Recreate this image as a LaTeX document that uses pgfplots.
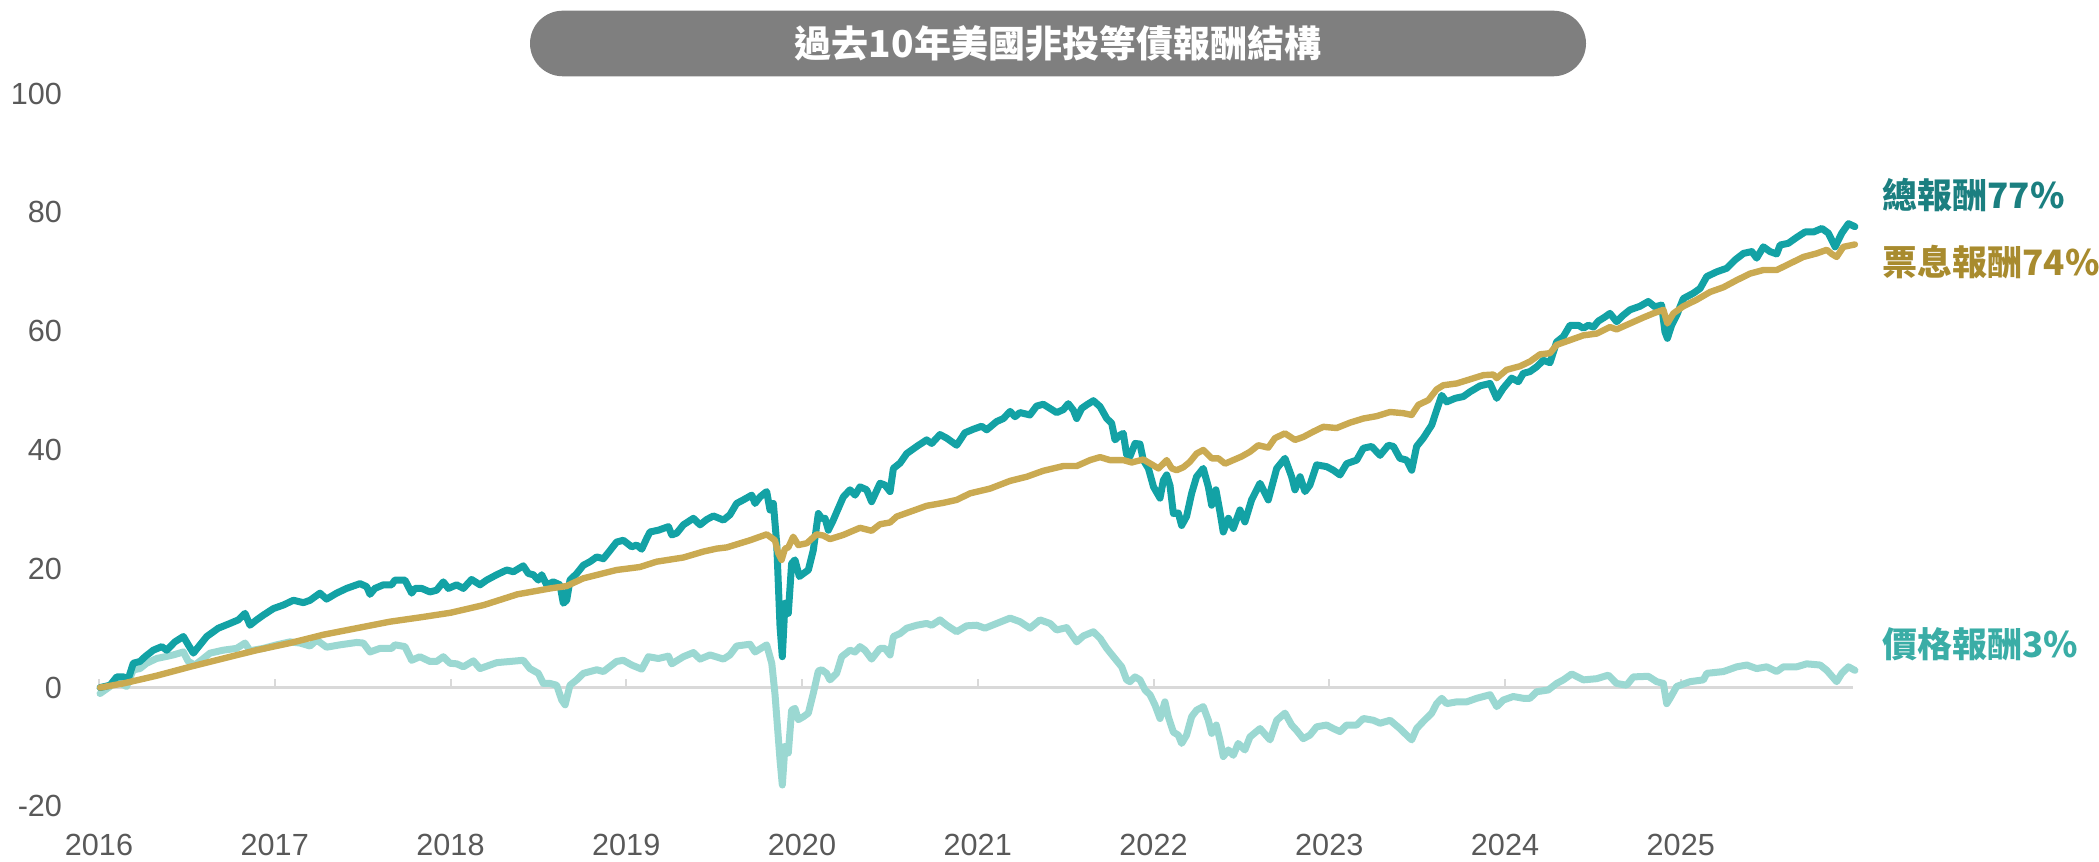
\documentclass[border=0pt]{standalone}
\usepackage{fontspec}
\setmainfont{Liberation Sans}
\newfontfamily\cjk{Noto Sans CJK TC}
\usepackage{pgfplots}
\pgfplotsset{compat=1.18}
\definecolor{totc}{HTML}{13A2A5}
\definecolor{cpnc}{HTML}{CAAA52}
\definecolor{prc}{HTML}{9BD8D2}
\definecolor{totlab}{HTML}{1B7F80}
\definecolor{cpnlab}{HTML}{A88B2E}
\definecolor{prlab}{HTML}{3AADA6}
\definecolor{tickgray}{HTML}{595959}
\definecolor{zerogray}{HTML}{D9D9D9}
\definecolor{titlegray}{HTML}{7F7F7F}
\begin{document}
\begin{tikzpicture}
\useasboundingbox (0pt,0pt) rectangle (1049.5pt,431pt);
\fill[titlegray, rounded corners=16.4pt] (265pt,392.85pt) rectangle (793pt,425.65pt);
\node[text=white, inner sep=0pt, font=\cjk\bfseries\fontsize{18.5}{18.5}\selectfont] at (529pt,409.25pt) {過去10年美國非投等債報酬結構};
\begin{axis}[
  at={(49.5pt,27.8pt)}, anchor=south west,
  scale only axis, width=878.75pt, height=356.4pt,
  xmin=2016, xmax=2026, ymin=-20, ymax=100,
  clip=false,
  axis line style={draw=none},
  major tick length=0pt,
  xtick={2016,2017,2018,2019,2020,2021,2022,2023,2024,2025},
  xticklabels={2016,2017,2018,2019,2020,2021,2022,2023,2024,2025},
  ytick={-20,0,20,40,60,80,100},
  yticklabels={-20,0,20,40,60,80,100},
  xticklabel style={anchor=base, inner sep=0pt, yshift=-24.3pt, text=tickgray, font=\fontsize{15.3}{15.3}\selectfont},
  yticklabel style={anchor=east, inner sep=0pt, xshift=-18.3pt, text=tickgray, font=\fontsize{15.3}{15.3}\selectfont},
]
\draw[zerogray, line width=1.3pt] (axis cs:2016,0) -- (axis cs:2025.98,0);
\pgfplotsinvokeforeach{2016,2017,2018,2019,2020,2021,2022,2023,2024,2025}{
  \draw[zerogray, line width=1pt] (axis cs:#1,0) -- ++(0pt,4.5pt);
}
% price return
\addplot[color=prc, line width=3.5pt, line join=round, line cap=round, mark=none] coordinates {
(2016.006,-1.0) (2016.063,0.2) (2016.101,1.0) (2016.157,0.2) (2016.195,3.0) (2016.233,3.2) (2016.271,4.1) (2016.328,4.9) (2016.376,5.2) (2016.423,5.5) (2016.480,6.0) (2016.508,4.4) (2016.546,3.8) (2016.594,4.9) (2016.632,5.8) (2016.707,6.3) (2016.783,6.6) (2016.831,7.5) (2016.859,6.2) (2016.935,6.6) (2017.011,7.2) (2017.087,7.7) (2017.144,7.5) (2017.201,7.0) (2017.239,8.0) (2017.295,6.8) (2017.371,7.2) (2017.466,7.6) (2017.504,7.5) (2017.542,6.0) (2017.599,6.6) (2017.665,6.6) (2017.684,7.2) (2017.741,6.9) (2017.779,4.6) (2017.826,5.2) (2017.883,4.4) (2017.921,4.4) (2017.959,5.2) (2017.997,4.1) (2018.035,4.0) (2018.073,3.5) (2018.130,4.5) (2018.168,3.2) (2018.263,4.2) (2018.339,4.4) (2018.414,4.6) (2018.452,3.2) (2018.500,2.4) (2018.528,0.7) (2018.566,0.7) (2018.604,0.4) (2018.633,-2.1) (2018.652,-2.9) (2018.680,0.4) (2018.718,1.3) (2018.756,2.4) (2018.832,3.0) (2018.870,2.7) (2018.945,4.4) (2018.983,4.6) (2019.031,3.8) (2019.088,3.1) (2019.126,5.2) (2019.183,4.9) (2019.240,5.3) (2019.259,4.0) (2019.325,5.2) (2019.382,5.9) (2019.420,4.8) (2019.477,5.5) (2019.553,4.8) (2019.590,5.5) (2019.628,7.0) (2019.704,7.3) (2019.733,6.0) (2019.799,7.2) (2019.828,4.1) (2019.846,-1.0) (2019.875,-12.2) (2019.888,-16.4) (2019.903,-9.9) (2019.922,-11.0) (2019.941,-3.8) (2019.960,-3.5) (2019.979,-5.4) (2020.008,-4.9) (2020.036,-4.3) (2020.064,-1.0) (2020.093,2.8) (2020.112,3.0) (2020.140,2.4) (2020.159,1.3) (2020.197,2.4) (2020.226,5.2) (2020.273,6.3) (2020.302,6.0) (2020.330,6.9) (2020.358,6.3) (2020.396,4.8) (2020.444,6.6) (2020.472,6.6) (2020.501,5.5) (2020.520,8.6) (2020.558,9.1) (2020.596,10.0) (2020.653,10.5) (2020.709,10.8) (2020.738,10.5) (2020.785,11.4) (2020.823,10.5) (2020.880,9.4) (2020.937,10.4) (2020.994,10.5) (2021.041,10.0) (2021.108,10.8) (2021.184,11.7) (2021.240,11.1) (2021.297,10.0) (2021.354,11.4) (2021.411,10.8) (2021.449,9.7) (2021.506,10.1) (2021.563,7.7) (2021.601,8.7) (2021.658,9.4) (2021.696,8.3) (2021.734,6.6) (2021.772,5.2) (2021.819,3.5) (2021.847,1.3) (2021.866,1.0) (2021.895,1.8) (2021.923,1.3) (2021.952,-0.4) (2021.980,-1.2) (2022.008,-2.9) (2022.037,-5.2) (2022.065,-2.4) (2022.084,-4.9) (2022.113,-7.5) (2022.141,-8.0) (2022.160,-9.4) (2022.188,-8.0) (2022.217,-4.9) (2022.245,-3.8) (2022.283,-3.2) (2022.312,-5.5) (2022.331,-7.7) (2022.357,-6.3) (2022.378,-8.8) (2022.397,-11.6) (2022.426,-10.5) (2022.454,-11.4) (2022.482,-9.4) (2022.520,-10.5) (2022.549,-8.3) (2022.606,-6.9) (2022.663,-8.8) (2022.701,-5.5) (2022.748,-4.3) (2022.786,-6.3) (2022.814,-7.2) (2022.852,-8.6) (2022.890,-8.0) (2022.928,-6.6) (2022.985,-6.3) (2023.023,-6.9) (2023.061,-7.4) (2023.099,-6.3) (2023.156,-6.3) (2023.194,-5.2) (2023.251,-5.5) (2023.289,-6.0) (2023.346,-5.5) (2023.402,-6.9) (2023.440,-8.0) (2023.469,-8.8) (2023.497,-6.9) (2023.535,-5.7) (2023.583,-4.3) (2023.611,-2.7) (2023.640,-1.8) (2023.668,-2.7) (2023.725,-2.4) (2023.782,-2.4) (2023.839,-1.8) (2023.915,-1.2) (2023.953,-3.2) (2023.990,-2.1) (2024.047,-1.5) (2024.104,-1.8) (2024.142,-1.8) (2024.180,-0.7) (2024.246,-0.4) (2024.294,0.7) (2024.332,1.3) (2024.380,2.3) (2024.446,1.3) (2024.522,1.5) (2024.588,2.1) (2024.635,0.7) (2024.692,0.4) (2024.730,1.8) (2024.815,1.9) (2024.863,1.0) (2024.901,0.7) (2024.920,-2.7) (2024.939,-1.8) (2024.977,0.2) (2025.053,1.0) (2025.129,1.3) (2025.148,2.4) (2025.243,2.7) (2025.319,3.5) (2025.376,3.8) (2025.432,3.2) (2025.489,3.5) (2025.546,2.7) (2025.584,3.5) (2025.660,3.5) (2025.717,4.0) (2025.793,3.8) (2025.831,2.9) (2025.887,1.0) (2025.916,2.4) (2025.954,3.5) (2025.991,2.9)
};
% total return
\addplot[color=totc, line width=3.5pt, line join=round, line cap=round, mark=none] coordinates {
(2016.006,0) (2016.063,0.4) (2016.101,1.8) (2016.138,1.8) (2016.167,1.5) (2016.195,4.1) (2016.233,4.4) (2016.262,5.2) (2016.309,6.3) (2016.357,6.9) (2016.385,6.3) (2016.432,7.7) (2016.480,8.6) (2016.508,7.2) (2016.537,5.8) (2016.575,7.2) (2016.613,8.6) (2016.679,10.0) (2016.745,10.8) (2016.793,11.4) (2016.831,12.5) (2016.859,10.5) (2016.897,11.4) (2016.935,12.2) (2016.992,13.3) (2017.049,13.9) (2017.106,14.7) (2017.163,14.3) (2017.201,14.7) (2017.257,15.9) (2017.295,14.9) (2017.352,15.9) (2017.409,16.7) (2017.485,17.5) (2017.523,17.0) (2017.542,15.7) (2017.570,16.7) (2017.618,17.3) (2017.665,17.3) (2017.684,18.1) (2017.741,18.1) (2017.779,15.9) (2017.798,16.7) (2017.836,16.7) (2017.883,16.1) (2017.921,16.4) (2017.959,17.8) (2017.988,16.7) (2018.035,17.3) (2018.073,16.7) (2018.120,18.2) (2018.168,17.3) (2018.206,18.1) (2018.263,19.0) (2018.320,19.8) (2018.358,19.5) (2018.414,20.5) (2018.443,19.2) (2018.471,19.0) (2018.500,18.1) (2018.519,19.0) (2018.547,17.3) (2018.585,17.8) (2018.623,17.3) (2018.642,14.2) (2018.661,14.7) (2018.680,18.1) (2018.718,19.2) (2018.756,20.6) (2018.794,21.2) (2018.832,22.0) (2018.870,21.7) (2018.908,23.1) (2018.945,24.5) (2018.983,24.8) (2019.031,23.7) (2019.059,24.0) (2019.088,23.3) (2019.116,25.1) (2019.135,26.2) (2019.183,26.5) (2019.240,27.1) (2019.259,25.7) (2019.287,26.0) (2019.325,27.4) (2019.382,28.5) (2019.420,27.4) (2019.458,28.3) (2019.496,28.9) (2019.553,28.2) (2019.590,29.1) (2019.628,31.0) (2019.666,31.6) (2019.714,32.4) (2019.733,31.0) (2019.761,32.1) (2019.799,33.0) (2019.818,29.9) (2019.837,31.0) (2019.856,24.3) (2019.875,10.3) (2019.888,5.2) (2019.903,14.2) (2019.922,12.5) (2019.941,20.9) (2019.960,21.5) (2019.985,18.7) (2020.008,19.2) (2020.036,19.8) (2020.064,23.1) (2020.093,29.3) (2020.112,28.5) (2020.131,28.5) (2020.150,26.5) (2020.178,28.2) (2020.207,30.2) (2020.235,32.1) (2020.273,33.3) (2020.302,32.4) (2020.330,33.8) (2020.368,33.3) (2020.396,31.3) (2020.444,34.4) (2020.472,34.1) (2020.501,33.0) (2020.520,36.9) (2020.558,37.8) (2020.596,39.4) (2020.653,40.6) (2020.709,41.7) (2020.738,41.1) (2020.785,42.6) (2020.823,42.0) (2020.880,40.8) (2020.927,42.9) (2020.975,43.5) (2021.022,44.0) (2021.051,43.4) (2021.108,44.8) (2021.146,45.3) (2021.184,46.5) (2021.212,45.6) (2021.240,46.3) (2021.297,45.9) (2021.335,47.4) (2021.373,47.7) (2021.411,47.0) (2021.449,46.3) (2021.487,46.8) (2021.515,47.8) (2021.544,46.7) (2021.563,45.3) (2021.591,47.0) (2021.620,47.6) (2021.658,48.3) (2021.696,47.3) (2021.734,45.3) (2021.762,44.5) (2021.781,41.7) (2021.809,42.5) (2021.828,42.8) (2021.847,39.2) (2021.866,38.9) (2021.895,41.1) (2021.923,41.0) (2021.942,38.3) (2021.971,36.9) (2022.000,33.8) (2022.037,31.9) (2022.056,34.9) (2022.075,35.8) (2022.094,34.0) (2022.113,29.3) (2022.141,29.4) (2022.160,27.3) (2022.188,28.8) (2022.217,32.7) (2022.245,35.5) (2022.283,36.9) (2022.312,33.8) (2022.331,30.7) (2022.355,33.3) (2022.378,29.6) (2022.397,26.2) (2022.426,28.5) (2022.454,26.8) (2022.492,29.9) (2022.520,27.9) (2022.558,31.6) (2022.606,34.4) (2022.653,31.6) (2022.701,36.9) (2022.748,38.6) (2022.786,35.5) (2022.805,33.3) (2022.834,35.5) (2022.862,33.0) (2022.890,34.1) (2022.928,37.5) (2022.985,37.2) (2023.023,36.6) (2023.061,35.8) (2023.099,37.7) (2023.156,38.3) (2023.194,40.3) (2023.241,40.6) (2023.289,39.1) (2023.336,40.8) (2023.365,40.6) (2023.402,38.6) (2023.440,38.3) (2023.469,36.6) (2023.497,40.6) (2023.535,42.0) (2023.583,44.2) (2023.611,46.7) (2023.640,49.2) (2023.668,48.1) (2023.716,48.7) (2023.763,49.0) (2023.801,49.8) (2023.858,50.8) (2023.915,51.2) (2023.953,48.7) (2023.990,50.4) (2024.038,52.1) (2024.076,51.5) (2024.104,52.9) (2024.142,53.2) (2024.180,54.0) (2024.218,55.1) (2024.256,54.7) (2024.294,58.2) (2024.332,59.1) (2024.370,61.0) (2024.417,61.0) (2024.446,60.5) (2024.474,61.0) (2024.503,60.7) (2024.531,61.7) (2024.569,62.4) (2024.597,63.0) (2024.635,61.6) (2024.673,62.7) (2024.711,63.6) (2024.768,64.2) (2024.815,65.0) (2024.853,64.1) (2024.891,64.4) (2024.910,59.9) (2024.924,58.8) (2024.948,61.0) (2024.977,62.7) (2025.015,65.5) (2025.072,66.4) (2025.110,67.2) (2025.148,69.2) (2025.205,70.0) (2025.262,70.6) (2025.309,72.0) (2025.357,73.1) (2025.404,73.4) (2025.432,72.3) (2025.470,74.2) (2025.508,73.4) (2025.546,73.0) (2025.565,74.5) (2025.612,74.8) (2025.660,75.8) (2025.707,76.7) (2025.755,76.7) (2025.803,77.3) (2025.840,76.5) (2025.878,74.2) (2025.916,76.5) (2025.954,78.1) (2025.991,77.6)
};
% coupon return
\addplot[color=cpnc, line width=3.2pt, line join=round, line cap=round, mark=none] coordinates {
(2016.006,0) (2016.138,0.7) (2016.328,2.0) (2016.518,3.5) (2016.707,4.9) (2016.897,6.3) (2017.087,7.5) (2017.276,8.9) (2017.466,10.0) (2017.656,11.1) (2017.845,11.9) (2018.000,12.6) (2018.190,13.9) (2018.380,15.7) (2018.568,16.7) (2018.661,17.1) (2018.756,18.4) (2018.945,19.8) (2019.078,20.3) (2019.173,21.2) (2019.325,21.9) (2019.439,22.9) (2019.515,23.4) (2019.572,23.6) (2019.704,24.8) (2019.799,25.8) (2019.846,24.8) (2019.865,22.6) (2019.884,21.5) (2019.903,23.4) (2019.922,23.6) (2019.950,25.4) (2019.979,24.0) (2020.027,24.3) (2020.083,25.8) (2020.121,25.6) (2020.159,25.0) (2020.235,25.7) (2020.330,26.9) (2020.396,26.4) (2020.444,27.5) (2020.501,27.8) (2020.539,28.8) (2020.615,29.6) (2020.709,30.6) (2020.804,31.1) (2020.880,31.6) (2020.956,32.7) (2021.070,33.5) (2021.184,34.8) (2021.279,35.5) (2021.373,36.5) (2021.487,37.3) (2021.563,37.3) (2021.639,38.3) (2021.696,38.8) (2021.752,38.3) (2021.828,38.3) (2021.876,37.9) (2021.942,38.4) (2022.000,37.4) (2022.028,36.9) (2022.056,37.7) (2022.075,38.3) (2022.104,36.9) (2022.132,36.6) (2022.170,37.1) (2022.207,38.0) (2022.245,39.4) (2022.283,40.0) (2022.331,38.6) (2022.369,38.6) (2022.407,37.7) (2022.454,38.3) (2022.501,38.9) (2022.549,39.7) (2022.596,40.8) (2022.653,40.4) (2022.691,42.0) (2022.748,42.8) (2022.805,41.7) (2022.853,42.2) (2022.910,43.1) (2022.966,43.9) (2023.042,43.7) (2023.118,44.6) (2023.194,45.3) (2023.270,45.7) (2023.346,46.4) (2023.421,46.2) (2023.469,45.9) (2023.507,47.6) (2023.564,48.4) (2023.611,50.2) (2023.649,50.9) (2023.725,51.2) (2023.801,51.9) (2023.877,52.6) (2023.934,52.7) (2023.953,52.1) (2024.009,53.5) (2024.085,54.1) (2024.142,54.9) (2024.199,56.1) (2024.256,56.3) (2024.294,57.7) (2024.370,58.5) (2024.446,59.3) (2024.522,59.6) (2024.597,60.7) (2024.635,60.3) (2024.711,61.3) (2024.787,62.3) (2024.844,63.0) (2024.901,63.6) (2024.924,61.3) (2024.958,63.0) (2025.015,64.2) (2025.091,65.3) (2025.167,66.6) (2025.243,67.4) (2025.319,68.6) (2025.395,69.7) (2025.470,70.3) (2025.546,70.3) (2025.622,71.4) (2025.698,72.5) (2025.774,73.1) (2025.831,73.7) (2025.859,73.0) (2025.887,72.5) (2025.925,74.2) (2025.991,74.6)
};
\end{axis}
\node[anchor=west, inner sep=0pt, text=totlab, font=\cjk\bfseries\fontsize{17.5}{17.5}\selectfont] at (941pt,333.65pt) {總報酬77\%};
\node[anchor=west, inner sep=0pt, text=cpnlab, font=\cjk\bfseries\fontsize{17.5}{17.5}\selectfont] at (941pt,299.75pt) {票息報酬74\%};
\node[anchor=west, inner sep=0pt, text=prlab, font=\cjk\bfseries\fontsize{17.5}{17.5}\selectfont] at (941pt,109pt) {價格報酬3\%};
\end{tikzpicture}
\end{document}
